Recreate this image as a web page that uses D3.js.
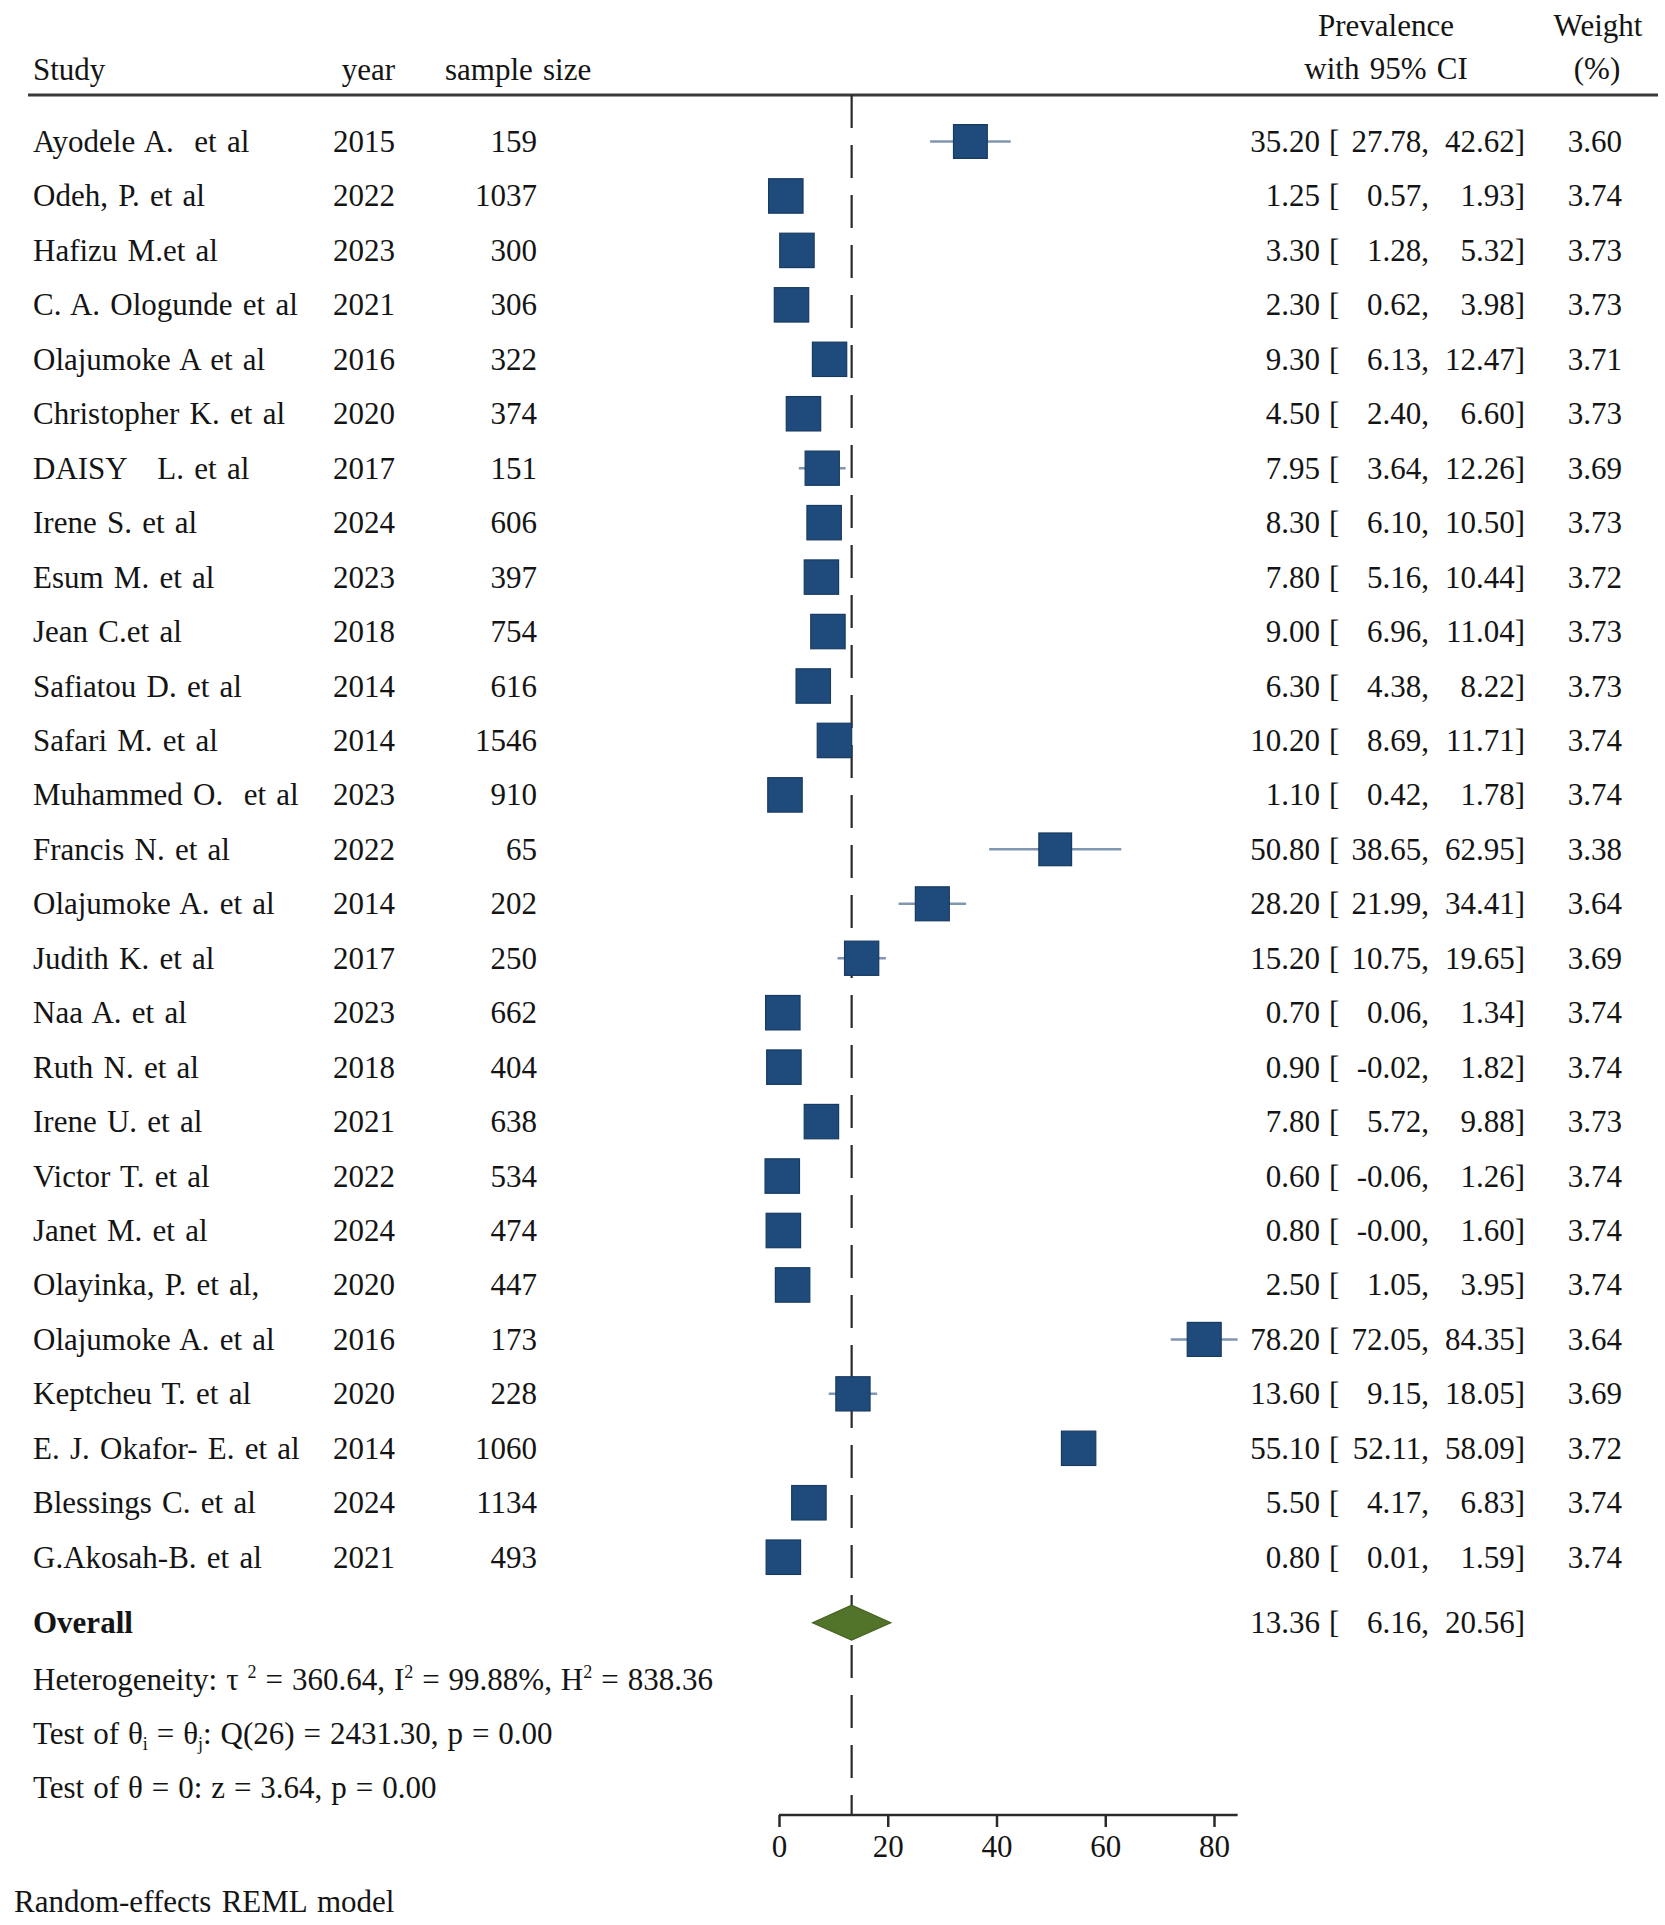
<!DOCTYPE html>
<html>
<head>
<meta charset="utf-8">
<script src="https://cdn.jsdelivr.net/npm/d3@7"></script>
<style>
    body { margin: 0; background: #ffffff; }
    text { font-family: "Liberation Serif", "Times New Roman", serif; fill: #141414; white-space: pre; word-spacing: 2.5px; }
    text.stats { word-spacing: 1.2px; }
</style>
</head>
<body>
<div id="plotDiv"></div>
<script>
"use strict";

// study data
var studies = ["Ayodele A.  et al", "Odeh, P. et al", "Hafizu M.et al", "C. A. Ologunde et al", "Olajumoke A et al",
    "Christopher K. et al", "DAISY   L. et al", "Irene S. et al", "Esum M. et al", "Jean C.et al",
    "Safiatou D. et al", "Safari M. et al", "Muhammed O.  et al", "Francis N. et al", "Olajumoke A. et al",
    "Judith K. et al", "Naa A. et al", "Ruth N. et al", "Irene U. et al", "Victor T. et al",
    "Janet M. et al", "Olayinka, P. et al,", "Olajumoke A. et al", "Keptcheu T. et al", "E. J. Okafor- E. et al",
    "Blessings C. et al", "G.Akosah-B. et al"];
var years = [2015, 2022, 2023, 2021, 2016, 2020, 2017, 2024, 2023, 2018, 2014, 2014, 2023, 2022, 2014,
    2017, 2023, 2018, 2021, 2022, 2024, 2020, 2016, 2020, 2014, 2024, 2021];
var sampleSizes = [159, 1037, 300, 306, 322, 374, 151, 606, 397, 754, 616, 1546, 910, 65, 202,
    250, 662, 404, 638, 534, 474, 447, 173, 228, 1060, 1134, 493];
var estimates = [35.20, 1.25, 3.30, 2.30, 9.30, 4.50, 7.95, 8.30, 7.80, 9.00, 6.30, 10.20, 1.10, 50.80, 28.20,
    15.20, 0.70, 0.90, 7.80, 0.60, 0.80, 2.50, 78.20, 13.60, 55.10, 5.50, 0.80];
var lowerCI = [27.78, 0.57, 1.28, 0.62, 6.13, 2.40, 3.64, 6.10, 5.16, 6.96, 4.38, 8.69, 0.42, 38.65, 21.99,
    10.75, 0.06, -0.02, 5.72, -0.06, -0.00, 1.05, 72.05, 9.15, 52.11, 4.17, 0.01];
var upperCI = [42.62, 1.93, 5.32, 3.98, 12.47, 6.60, 12.26, 10.50, 10.44, 11.04, 8.22, 11.71, 1.78, 62.95, 34.41,
    19.65, 1.34, 1.82, 9.88, 1.26, 1.60, 3.95, 84.35, 18.05, 58.09, 6.83, 1.59];
var weights = [3.60, 3.74, 3.73, 3.73, 3.71, 3.73, 3.69, 3.73, 3.72, 3.73, 3.73, 3.74, 3.74, 3.38, 3.64,
    3.69, 3.74, 3.74, 3.73, 3.74, 3.74, 3.74, 3.64, 3.69, 3.72, 3.74, 3.74];

// pooled estimate
var overall = {est: 13.36, lo: 6.16, hi: 20.56};
var axisTicks = [0, 20, 40, 60, 80];

// svg element parameters
var svgWidth = 1665;
var svgHeight = 1925;
var fontSize = 31;

var svg, xScale, yScale, rows, g, statsY;

svg = d3.select("#plotDiv").append("svg").attr("width", svgWidth).attr("height", svgHeight)
        .style("font-size", fontSize + "px");
svg.append("rect").attr("width", svgWidth).attr("height", svgHeight).attr("fill", "#ffffff");

rows = studies.map(function (s, i) {
    return {name: s, year: years[i], n: sampleSizes[i], est: estimates[i], lo: lowerCI[i], hi: upperCI[i], w: weights[i]};
});

xScale = d3.scaleLinear().domain([0, 80]).range([779, 1214]);
yScale = d3.scalePoint().domain(d3.range(rows.length)).range([141.5, 1557.2]);

// keep the "-0.00" of the original table
function fmt(v) {
    if (v < 0 || Object.is(v, -0)) {
        return "-" + Math.abs(v).toFixed(2);
    }
    return v.toFixed(2);
}

// header
var header = svg.append("g").attr("class", "header");
header.append("text").attr("x", 33).attr("y", 80).text("Study");
header.append("text").attr("x", 395).attr("y", 80).attr("text-anchor", "end").text("year");
header.append("text").attr("x", 445).attr("y", 80).text("sample size");
header.append("text").attr("x", 1386).attr("y", 36).attr("text-anchor", "middle").text("Prevalence");
header.append("text").attr("x", 1386).attr("y", 79).attr("text-anchor", "middle").text("with 95% CI");
header.append("text").attr("x", 1598).attr("y", 36).attr("text-anchor", "middle").text("Weight");
header.append("text").attr("x", 1597).attr("y", 79).attr("text-anchor", "middle").text("(%)");
header.append("line").attr("x1", 28).attr("x2", 1658).attr("y1", 95).attr("y2", 95)
        .attr("stroke", "#3a3a3a").attr("stroke-width", 3);

// dashed line at the overall estimate
svg.append("line").attr("x1", xScale(overall.est)).attr("x2", xScale(overall.est))
        .attr("y1", 95).attr("y2", 1815)
        .attr("stroke", "#2a2a2a").attr("stroke-width", 2.2).attr("stroke-dasharray", "33,17");

// one group per study row
g = svg.append("g").attr("class", "rows").selectAll("g").data(rows).enter()
        .append("g")
        .attr("transform", function (d, i) {return "translate(0," + yScale(i) + ")";});

g.append("text").attr("x", 33).attr("y", 10.5).text(function (d) {return d.name;});
g.append("text").attr("x", 395).attr("y", 10.5).attr("text-anchor", "end").text(function (d) {return d.year;});
g.append("text").attr("x", 537).attr("y", 10.5).attr("text-anchor", "end").text(function (d) {return d.n;});

// confidence interval and weighted box
g.append("line")
        .attr("x1", function (d) {return xScale(d.lo);})
        .attr("x2", function (d) {return xScale(d.hi);})
        .attr("y1", 0).attr("y2", 0)
        .attr("stroke", "#8196b0").attr("stroke-width", 2.5);
g.append("rect")
        .attr("x", function (d) {return xScale(d.est) - 8.9 * Math.sqrt(d.w);})
        .attr("y", function (d) {return -8.9 * Math.sqrt(d.w);})
        .attr("width", function (d) {return 17.8 * Math.sqrt(d.w);})
        .attr("height", function (d) {return 17.8 * Math.sqrt(d.w);})
        .attr("fill", "#1f4b7c").attr("stroke", "#173a61").attr("stroke-width", 1.2);

// estimate text columns
g.append("text").attr("x", 1320).attr("y", 10.5).attr("text-anchor", "end").text(function (d) {return fmt(d.est);});
g.append("text").attr("x", 1329).attr("y", 10.5).text("[");
g.append("text").attr("x", 1429).attr("y", 10.5).attr("text-anchor", "end").text(function (d) {return fmt(d.lo) + ",";});
g.append("text").attr("x", 1525).attr("y", 10.5).attr("text-anchor", "end").text(function (d) {return fmt(d.hi) + "]";});
g.append("text").attr("x", 1622).attr("y", 10.5).attr("text-anchor", "end").text(function (d) {return d.w.toFixed(2);});

// overall row
var oy = 1622.7;
svg.append("text").attr("x", 33).attr("y", oy + 10.5).attr("font-weight", "bold").text("Overall");
svg.append("path")
        .attr("d", "M" + xScale(overall.lo) + "," + oy + "L" + xScale(overall.est) + "," + (oy - 17.5) +
                   "L" + xScale(overall.hi) + "," + oy + "L" + xScale(overall.est) + "," + (oy + 17.5) + "Z")
        .attr("fill", "#52732a").attr("stroke", "#44601f").attr("stroke-width", 1.2);
svg.append("text").attr("x", 1320).attr("y", oy + 10.5).attr("text-anchor", "end").text(fmt(overall.est));
svg.append("text").attr("x", 1329).attr("y", oy + 10.5).text("[");
svg.append("text").attr("x", 1429).attr("y", oy + 10.5).attr("text-anchor", "end").text(fmt(overall.lo) + ",");
svg.append("text").attr("x", 1525).attr("y", oy + 10.5).attr("text-anchor", "end").text(fmt(overall.hi) + "]");

// heterogeneity statistics
statsY = [1690, 1744, 1798];
var t1 = svg.append("text").attr("class", "stats").attr("x", 33).attr("y", statsY[0]);
t1.append("tspan").text("Heterogeneity: \u03c4 ");
t1.append("tspan").attr("dy", -12).style("font-size", "18px").text("2");
t1.append("tspan").attr("dy", 12).text(" = 360.64, I");
t1.append("tspan").attr("dy", -12).style("font-size", "18px").text("2");
t1.append("tspan").attr("dy", 12).text(" = 99.88%, H");
t1.append("tspan").attr("dy", -12).style("font-size", "18px").text("2");
t1.append("tspan").attr("dy", 12).text(" = 838.36");

var t2 = svg.append("text").attr("class", "stats").attr("x", 33).attr("y", statsY[1]);
t2.append("tspan").text("Test of \u03b8");
t2.append("tspan").attr("dy", 6).style("font-size", "18px").text("i");
t2.append("tspan").attr("dy", -6).text(" = \u03b8");
t2.append("tspan").attr("dy", 6).style("font-size", "18px").text("j");
t2.append("tspan").attr("dy", -6).text(": Q(26) = 2431.30, p = 0.00");

svg.append("text").attr("class", "stats").attr("x", 33).attr("y", statsY[2]).text("Test of \u03b8 = 0: z = 3.64, p = 0.00");

// x axis
var axisG = svg.append("g").attr("transform", "translate(0,1815)")
        .call(d3.axisBottom(xScale).tickValues(axisTicks).tickSize(12).tickPadding(8).tickFormat(d3.format("d")));
axisG.select(".domain").attr("d", "M" + xScale(0) + ",0H" + xScale(84.35))
        .attr("stroke", "#2a2a2a").attr("stroke-width", 2.5);
axisG.selectAll(".tick line").attr("stroke", "#2a2a2a").attr("stroke-width", 2.5);
axisG.selectAll(".tick text").style("font-family", "Liberation Serif").style("font-size", fontSize + "px").attr("fill", "#141414");

svg.append("text").attr("x", 14).attr("y", 1912).text("Random-effects REML model");
</script>
</body>
</html>
